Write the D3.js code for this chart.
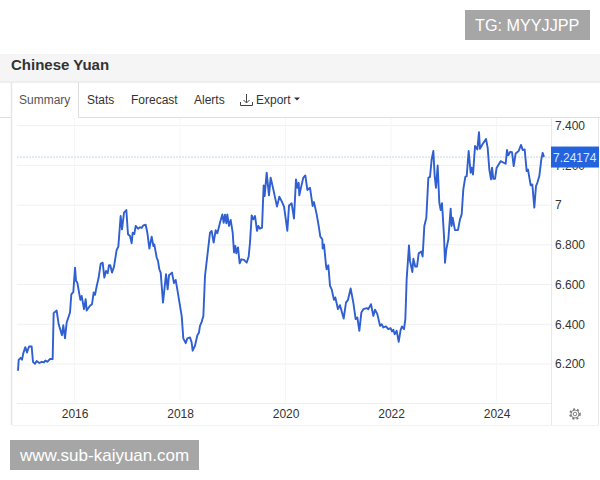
<!doctype html>
<html>
<head>
<meta charset="UTF-8" />
<title>Chinese Yuan</title>
<script src="https://d3js.org/d3.v7.min.js"></script>
<style>
  html, body { margin: 0; padding: 0; background: #fff; }
  svg { display: block; font-family: "Liberation Sans", Arial, sans-serif; }
  .axis path, .axis line { display: none; }
  .axis text { font-family: "Liberation Sans", Arial, sans-serif; font-size: 12px; fill: #333; }
</style>
</head>
<body>
<div id="container"></div>

<script>
// chart data
const years = [
  2014.927,2014.940,2014.978,2015.003,2015.028,2015.066,2015.098,2015.136,2015.186,2015.211,2015.249,2015.281,2015.331,2015.376,2015.420,2015.445,2015.483,2015.534,2015.584,2015.603,
  2015.660,2015.698,2015.761,2015.786,2015.818,2015.850,2015.913,2015.938,2015.976,2016.008,2016.027,2016.052,2016.109,2016.134,2016.178,2016.210,2016.229,2016.292,2016.330,2016.362,
  2016.387,2016.418,2016.456,2016.494,2016.532,2016.564,2016.595,2016.627,2016.652,2016.677,2016.709,2016.747,2016.797,2016.829,2016.873,2016.899,2016.937,2016.981,2017.012,2017.050,
  2017.082,2017.101,2017.132,2017.158,2017.202,2017.240,2017.271,2017.303,2017.347,2017.379,2017.417,2017.461,2017.493,2017.511,2017.556,2017.581,2017.606,2017.632,2017.676,2017.733,
  2017.764,2017.790,2017.846,2017.884,2017.916,2017.947,2017.998,2018.030,2018.061,2018.106,2018.137,2018.188,2018.219,2018.238,2018.282,2018.327,2018.358,2018.377,2018.409,2018.441,
  2018.472,2018.516,2018.567,2018.598,2018.636,2018.674,2018.706,2018.756,2018.801,2018.826,2018.851,2018.877,2018.895,2018.927,2018.959,2018.997,2019.022,2019.047,2019.066,2019.098,
  2019.129,2019.161,2019.211,2019.262,2019.300,2019.325,2019.357,2019.388,2019.420,2019.458,2019.483,2019.515,2019.553,2019.584,2019.603,2019.641,2019.685,2019.717,2019.767,2019.837,
  2019.881,2019.925,2019.970,2020.008,2020.033,2020.065,2020.115,2020.159,2020.197,2020.222,2020.248,2020.260,2020.305,2020.336,2020.374,2020.412,2020.463,2020.513,2020.538,2020.589,
  2020.627,2020.658,2020.696,2020.703,2020.728,2020.766,2020.778,2020.810,2020.842,2020.873,2020.917,2020.943,2020.993,2021.031,2021.101,2021.145,2021.183,2021.233,2021.284,2021.328,
  2021.360,2021.398,2021.436,2021.474,2021.537,2021.568,2021.619,2021.663,2021.695,2021.739,2021.790,2021.821,2021.853,2021.903,2021.947,2021.992,2022.017,2022.042,2022.068,2022.106,
  2022.144,2022.181,2022.207,2022.245,2022.270,2022.295,2022.339,2022.358,2022.403,2022.422,2022.459,2022.491,2022.523,2022.573,2022.598,2022.630,2022.668,2022.706,2022.737,2022.769,
  2022.801,2022.826,2022.851,2022.883,2022.914,2022.940,2022.965,2023.003,2023.022,2023.047,2023.085,2023.129,2023.148,2023.167,2023.211,2023.268,2023.306,2023.338,2023.369,2023.407,
  2023.433,2023.470,2023.508,2023.527,2023.553,2023.591,2023.635,2023.666,2023.685,2023.730,2023.799,2023.831,2023.862,2023.894,2023.913,2023.938,2023.970,2024.001,2024.077,2024.172,
  2024.197,2024.222,2024.260,2024.292,2024.324,2024.361,2024.418,2024.463,2024.494,2024.532,2024.570,2024.595,2024.646,2024.677,2024.715,2024.747,2024.772,2024.810,2024.848,2024.873,2024.898
];
const rates = [
  6.166,6.221,6.231,6.221,6.255,6.285,6.258,6.288,6.288,6.211,6.201,6.215,6.205,6.211,6.208,6.218,6.211,6.225,6.225,6.456,
  6.469,6.400,6.345,6.395,6.329,6.409,6.459,6.551,6.563,6.685,6.618,6.610,6.523,6.543,6.476,6.526,6.469,6.493,6.501,6.560,
  6.548,6.590,6.635,6.704,6.710,6.635,6.668,6.657,6.697,6.697,6.660,6.690,6.774,6.791,6.945,6.878,6.962,6.975,6.853,6.844,
  6.808,6.861,6.854,6.895,6.881,6.888,6.885,6.898,6.901,6.861,6.781,6.841,6.794,6.802,6.736,6.719,6.677,6.660,6.509,6.652,
  6.576,6.647,6.660,6.607,6.623,6.576,6.493,6.442,6.329,6.305,6.329,6.334,6.308,6.267,6.292,6.345,6.359,6.392,6.412,6.442,
  6.643,6.744,6.861,6.870,6.811,6.873,6.858,6.911,6.953,6.911,6.952,6.908,6.953,6.895,6.925,6.861,6.761,6.794,6.757,6.787,
  6.707,6.727,6.724,6.710,6.741,6.811,6.948,6.928,6.945,6.870,6.895,6.881,6.886,7.099,7.045,7.163,7.049,7.138,7.079,6.992,
  7.042,7.020,6.992,6.920,6.870,6.998,7.009,6.932,7.129,7.087,7.112,7.049,7.104,7.138,7.149,7.076,7.087,6.995,7.015,6.953,
  6.895,6.841,6.828,6.781,6.802,6.697,6.677,6.697,6.593,6.576,6.523,6.535,6.476,6.496,6.429,6.509,6.523,6.580,6.509,6.426,
  6.434,6.367,6.459,6.476,6.481,6.476,6.501,6.442,6.473,6.451,6.392,6.400,6.384,6.389,6.375,6.380,6.364,6.372,6.350,6.367,
  6.312,6.372,6.389,6.375,6.426,6.627,6.797,6.719,6.663,6.730,6.690,6.690,6.757,6.766,6.741,6.895,6.936,7.137,7.142,7.230,
  7.272,7.146,7.087,7.199,7.012,6.975,7.009,6.844,6.710,6.777,6.828,6.982,6.895,6.936,6.874,6.874,6.928,6.953,7.079,7.142,
  7.146,7.272,7.163,7.188,7.154,7.297,7.280,7.367,7.283,7.305,7.333,7.288,7.179,7.129,7.188,7.132,7.132,7.188,7.221,7.208,
  7.277,7.250,7.268,7.266,7.196,7.260,7.272,7.303,7.277,7.280,7.171,7.179,7.099,7.104,6.987,7.096,7.112,7.146,7.230,7.263,7.24174
];
const lastRate = 7.24174;
const yTicks = [6.2, 6.4, 6.6, 6.8, 7, 7.2, 7.4];
const xTicks = [2016, 2018, 2020, 2022, 2024];
const tabs = ["Summary", "Stats", "Forecast", "Alerts", "Export"];
const tabLabelX = [19, 87, 131, 194, 256];

const width = 600;
const height = 480;
const plotLeft = 17;
const plotRight = 551;

const x = d3.scaleLinear().domain([2016, 2024]).range([74.6, 496.6]);
const y = d3.scaleLinear().domain([6.2, 7.4]).range([364, 125.6]);

const svg = d3.select("#container").append("svg")
    .attr("width", width)
    .attr("height", height);

// title band
svg.append("rect").attr("x", 0).attr("y", 54).attr("width", width).attr("height", 27).attr("fill", "#f5f5f5");
svg.append("line").attr("x1", 0).attr("x2", width).attr("y1", 82).attr("y2", 82).attr("stroke", "#dedede");
svg.append("text").attr("x", 11).attr("y", 70)
    .attr("font-size", 15).attr("font-weight", "bold").attr("fill", "#333").text("Chinese Yuan");

// tabs and panel borders
const borders = svg.append("g").attr("stroke", "#dfdfdf").attr("fill", "none");
borders.append("path").attr("d", "M0,117.5H11.5M78.5,82V117.5H600");
borders.append("path").attr("d", "M11.5,82V425").attr("stroke-width", 1.5).attr("stroke", "#e6e6e6");
borders.append("path").attr("d", "M551.5,117.5V425M598.5,117.5V425").attr("stroke", "#e8e8e8");
borders.append("path").attr("d", "M12,425.5H599").attr("stroke", "#f2f2f2");

svg.append("g").selectAll("text").data(tabs).join("text")
    .attr("x", (d, i) => tabLabelX[i])
    .attr("y", 103.5)
    .attr("font-size", 12)
    .attr("fill", (d, i) => i === 0 ? "#555" : "#333")
    .text(d => d);

// download icon and caret next to Export
const icon = svg.append("g").attr("fill", "none").attr("stroke", "#444").attr("stroke-width", 1);
icon.append("path").attr("d", "M246.5,94V102.5M243.5,100L246.5,103L249.5,100");
icon.append("path").attr("d", "M240.5,102V105.5H252.5V102");
svg.append("path").attr("d", "M294,97.5H300L297,100.5Z").attr("fill", "#333");

// grid
const grid = svg.append("g");
grid.selectAll("line.h").data(yTicks).join("line").attr("class", "h")
    .attr("x1", plotLeft).attr("x2", plotRight)
    .attr("y1", d => y(d)).attr("y2", d => y(d))
    .attr("stroke", "#f0f0f0");
grid.selectAll("line.v").data(xTicks).join("line").attr("class", "v")
    .attr("x1", d => x(d)).attr("x2", d => x(d))
    .attr("y1", 118).attr("y2", 403)
    .attr("stroke", "#f6f6f6");
svg.append("line").attr("x1", plotLeft).attr("x2", plotRight).attr("y1", 403.5).attr("y2", 403.5).attr("stroke", "#eeeeee");

// axes
svg.append("g").attr("class", "axis")
    .attr("transform", `translate(${plotRight},0)`)
    .call(d3.axisRight(y).tickValues(yTicks).tickSize(0).tickPadding(4)
        .tickFormat(d => d === 7 ? "7" : d.toFixed(3)));
svg.append("g").attr("class", "axis")
    .attr("transform", "translate(0,403)")
    .call(d3.axisBottom(x).tickValues(xTicks).tickSize(0).tickPadding(6).tickFormat(d3.format("d")));

// last value marker
svg.append("line").attr("x1", plotLeft).attr("x2", plotRight)
    .attr("y1", y(lastRate)).attr("y2", y(lastRate))
    .attr("stroke", "#c9d6e6").attr("stroke-width", 1).attr("stroke-dasharray", "2 1");

const line = d3.line().x((d, i) => x(years[i])).y(d => y(d));
svg.append("path").datum(rates)
    .attr("fill", "none").attr("stroke", "#2f5fd0").attr("stroke-width", 1.9)
    .attr("stroke-linejoin", "round")
    .attr("d", line);

svg.append("rect").attr("x", 551).attr("y", y(lastRate) - 10.5).attr("width", 48).attr("height", 21).attr("fill", "#2463de");
svg.append("text").attr("x", 553).attr("y", y(lastRate) + 4.5)
    .attr("font-size", 12).attr("fill", "#dbe6ff").text(d3.format(".5f")(lastRate));

// settings gear
const gear = svg.append("g").attr("transform", "translate(575,414)").attr("fill", "none").attr("stroke", "#777");
gear.append("circle").attr("r", 1.8).attr("stroke-width", 0.9);
gear.append("circle").attr("r", 4).attr("stroke-width", 0.9);
gear.append("circle").attr("r", 5).attr("stroke-width", 1.6).attr("stroke-dasharray", "2 2.19");

// watermarks
svg.append("rect").attr("x", 465).attr("y", 10).attr("width", 125).attr("height", 30).attr("fill", "#a6a6a6");
svg.append("text").attr("x", 475).attr("y", 31).attr("font-size", 16.2).attr("fill", "#fff").text("TG: MYYJJPP");
svg.append("rect").attr("x", 10).attr("y", 440).attr("width", 189).attr("height", 30).attr("fill", "#a6a6a6");
svg.append("text").attr("x", 20).attr("y", 461).attr("font-size", 17).attr("fill", "#fff").text("www.sub-kaiyuan.com");
</script>
</body>
</html>
